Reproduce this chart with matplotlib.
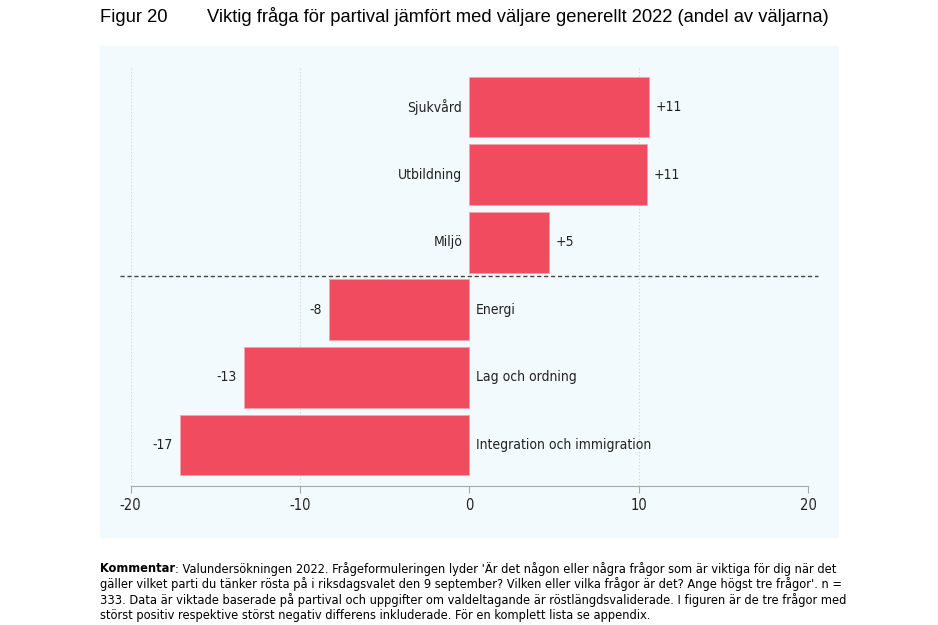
import matplotlib
matplotlib.use("Agg")
import matplotlib.pyplot as plt
import matplotlib.transforms as mtransforms
from matplotlib.patches import Rectangle

W, H = 938, 625

CATEGORIES = ["Sjukvård", "Utbildning", "Miljö", "Energi",
              "Lag och ordning", "Integration och immigration"]
DIFF = [10.6, 10.5, 4.7, -8.3, -13.3, -17.1]
VALUE_LABELS = ["+11", "+11", "+5", "-8", "-13", "-17"]
XTICKS = [-20, -10, 0, 10, 20]
GRID_AT = [-20, -10, 10]
SPLIT_AT = 2.5

FIG_NO = "Figur 20"
TITLE = "Viktig fråga för partival jämfört med väljare generellt 2022 (andel av väljarna)"
NOTE_BOLD = "Kommentar"
NOTE_LINES = [
    ": Valundersökningen 2022. Frågeformuleringen lyder 'Är det någon eller några frågor som är viktiga för dig när det",
    "gäller vilket parti du tänker rösta på i riksdagsvalet den 9 september? Vilken eller vilka frågor är det? Ange högst tre frågor'. n =",
    "333. Data är viktade baserade på partival och uppgifter om valdeltagande är röstlängdsvaliderade. I figuren är de tre frågor med",
    "störst positiv respektive störst negativ differens inkluderade. För en komplett lista se appendix.",
]

BAR = "#F04B5F"
PANEL = "#F3FAFD"
TXT = "#222222"
COND = dict(family="DejaVu Sans", fontstretch="condensed")
REGULAR = ["Liberation Sans", "DejaVu Sans"]


def px(x, y):
    return x / W, 1 - y / H


fig = plt.figure(figsize=(W / 100, H / 100), dpi=100)
fig.patch.set_facecolor("white")
fig.patches.append(Rectangle(px(100, 537), 738 / W, 491 / H,
                             transform=fig.transFigure, color=PANEL, zorder=-5))

l, b = px(130.5, 486)
ax = fig.add_axes([l, b, 677.5 / W, 419 / H])
ax.patch.set_alpha(0)
ax.set_xlim(-20, 20)
ax.set_ylim(5.607, -0.592)

ypos = list(range(len(CATEGORIES)))
ax.barh(ypos, DIFF, height=0.9, color=BAR, edgecolor="#F7A3AD",
        linewidth=0.6, zorder=3)

for g in GRID_AT:
    ax.axvline(g, color="#CDD3D6", linestyle=(0, (1, 2)), linewidth=0.8, zorder=1)

for y, v, lab, cat in zip(ypos, DIFF, VALUE_LABELS, CATEGORIES):
    side = 1 if v >= 0 else -1
    ax.annotate(lab, (v, y), xytext=(5 * side, 0), textcoords="offset points",
                ha="left" if side > 0 else "right", va="center",
                fontsize=10, color=TXT, **COND)
    ax.annotate(cat, (0, y), xytext=(-5 * side, 0), textcoords="offset points",
                ha="right" if side > 0 else "left", va="center",
                fontsize=10, color=TXT, **COND)

trans = mtransforms.blended_transform_factory(ax.transAxes, ax.transData)
ax.plot([-0.0155, 1.0148], [SPLIT_AT, SPLIT_AT], transform=trans, clip_on=False,
        color="#444444", linestyle=(0, (3, 2)), linewidth=1, zorder=4)

for s in ["left", "top", "right"]:
    ax.spines[s].set_visible(False)
ax.spines["bottom"].set_color("#A8A8A8")
ax.set_yticks([])
ax.set_xticks(XTICKS)
ax.set_xticklabels([str(t) for t in XTICKS], fontsize=10.5, color=TXT, **COND)
ax.tick_params(axis="x", length=5, color="#A8A8A8", pad=4)

fig.text(*px(100, 17), FIG_NO, family=REGULAR, fontsize=13.2, va="center", ha="left")
fig.text(*px(207, 17), TITLE, family=REGULAR, fontsize=13.2, va="center", ha="left")

# note block: size the font so the longest line spans the same width as the panel
renderer = fig.canvas.get_renderer()
probe = fig.text(0, 0, NOTE_LINES[1], fontsize=10, **COND)
note_fs = 10 * 740 / probe.get_window_extent(renderer).width
probe.remove()

x0, y0 = px(100, 569)
tb = fig.text(x0, y0, NOTE_BOLD, fontsize=note_fs, fontweight="bold",
              va="center", ha="left", **COND)
bw = tb.get_window_extent(renderer).width / W
fig.text(x0 + bw, y0, NOTE_LINES[0], fontsize=note_fs, va="center", ha="left", **COND)
for i, line in enumerate(NOTE_LINES[1:], start=1):
    fig.text(*px(100, 569 + 15.5 * i), line, fontsize=note_fs,
             va="center", ha="left", **COND)

fig.savefig("out.png", dpi=100)
